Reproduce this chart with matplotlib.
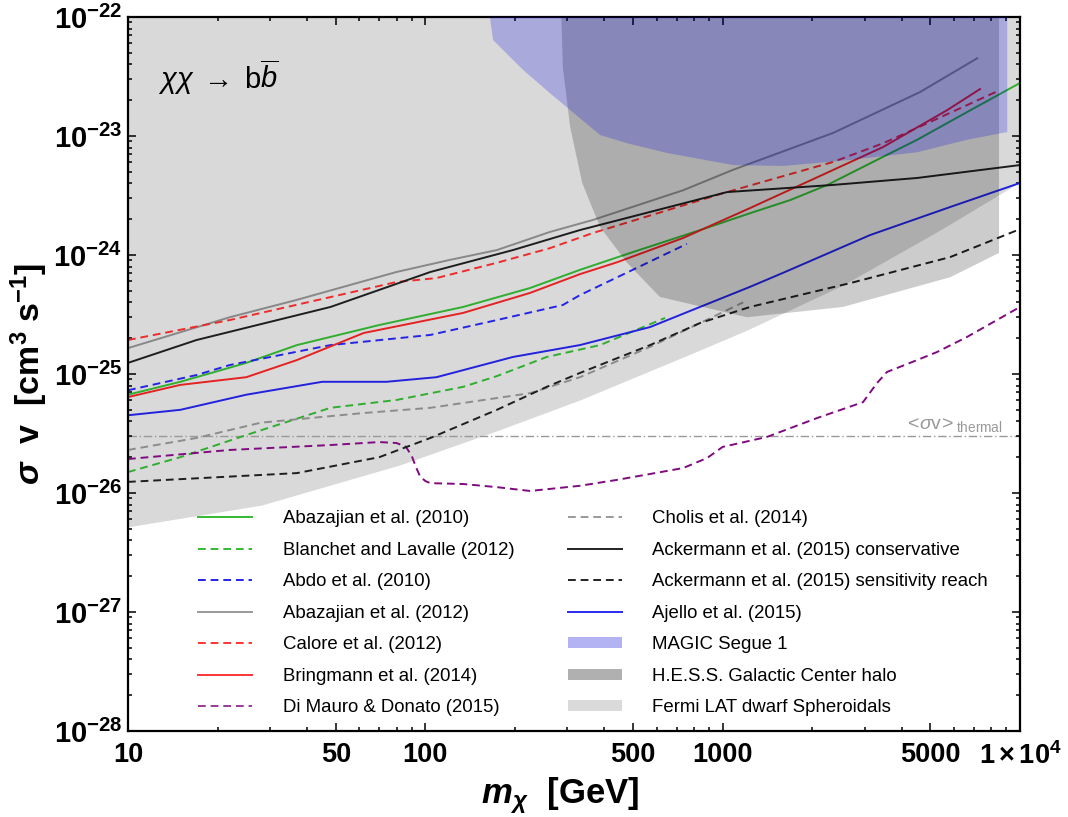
import numpy as np
import matplotlib.pyplot as plt
from matplotlib.lines import Line2D
from matplotlib.patches import Patch
from matplotlib.ticker import FixedLocator, FixedFormatter, NullFormatter

plt.rcParams['font.family'] = ['Liberation Sans', 'DejaVu Sans']
plt.rcParams['mathtext.fontset'] = 'custom'
plt.rcParams['mathtext.rm'] = 'Liberation Sans'
plt.rcParams['mathtext.it'] = 'Liberation Sans:italic'
plt.rcParams['mathtext.bf'] = 'Liberation Sans:bold'
plt.rcParams['mathtext.bfit'] = 'Liberation Sans:bold:italic'

# ---- limits: m_chi [GeV] vs <sigma v> [cm^3/s] ----
abaz10_m = [10, 15, 25, 37, 70, 134, 225, 331, 500, 840, 1240, 1690, 2250, 3470, 4510, 6640, 10000]
abaz10_sv = [6.7e-26, 8.6e-26, 1.24e-25, 1.75e-25, 2.58e-25, 3.66e-25, 5.28e-25, 7.5e-25, 1.06e-24,
             1.62e-24, 2.25e-24, 2.9e-24, 3.88e-24, 6.7e-24, 9.3e-24, 1.59e-23, 2.79e-23]

blanchet_m = [10, 15, 25, 48, 80, 134, 174, 256, 387, 640]
blanchet_sv = [1.5e-26, 2.0e-26, 3.07e-26, 5.2e-26, 6.05e-26, 7.8e-26, 9.6e-26, 1.39e-25, 1.75e-25, 2.96e-25]

abdo_m = [10, 17, 22, 48, 104, 174, 290, 331, 442, 758]
abdo_sv = [7.3e-26, 9.8e-26, 1.19e-25, 1.75e-25, 2.13e-25, 2.84e-25, 3.8e-25, 4.6e-25, 6.5e-25, 1.24e-24]

abaz12_m = [10, 22, 37, 80, 121, 174, 262, 366, 736, 1084, 2350, 4610, 7180]
abaz12_sv = [1.65e-25, 3.0e-25, 4.2e-25, 7.2e-25, 9.1e-25, 1.1e-24, 1.56e-24, 1.97e-24, 3.5e-24,
             5.2e-24, 1.06e-23, 2.34e-23, 4.5e-23]

calore_m = [10, 22, 80, 109, 174, 262, 366, 1000, 2350, 3470, 4510, 8430]
calore_sv = [1.93e-25, 2.84e-25, 5.93e-25, 6.4e-25, 8.6e-25, 1.14e-24, 1.53e-24, 3.3e-24, 6.05e-24,
             8.7e-24, 1.17e-23, 2.39e-23]

bring_m = [10, 15, 25, 37, 62, 134, 225, 331, 442, 736, 1236, 2080, 3470, 5690, 7340]
bring_sv = [6.4e-26, 8.1e-26, 9.4e-26, 1.31e-25, 2.21e-25, 3.26e-25, 4.8e-25, 6.9e-25, 8.7e-25,
            1.39e-24, 2.48e-24, 4.5e-24, 8.1e-24, 1.65e-23, 2.48e-23]

dimauro_m = [10, 22, 48, 70, 80, 86, 90, 93, 96, 100, 104, 134, 174, 225, 331, 442, 736, 887, 1000,
             1410, 2080, 2965, 3305, 3570, 4510, 5260, 6640, 10000]
dimauro_sv = [1.93e-26, 2.3e-26, 2.53e-26, 2.68e-26, 2.63e-26, 2.45e-26, 2.05e-26, 1.65e-26, 1.38e-26,
              1.26e-26, 1.21e-26, 1.19e-26, 1.12e-26, 1.04e-26, 1.15e-26, 1.29e-26, 1.62e-26, 1.97e-26,
              2.44e-26, 2.96e-26, 4.27e-26, 5.8e-26, 8.4e-26, 1.04e-25, 1.31e-25, 1.53e-25, 2.05e-25,
              3.66e-25]

cholis_m = [10, 17, 28, 62, 104, 225, 331, 570, 839, 1172]
cholis_sv = [2.3e-26, 2.9e-26, 3.9e-26, 4.7e-26, 5.2e-26, 6.9e-26, 9.4e-26, 1.69e-25, 2.68e-25, 4.0e-25]

ackc_m = [10, 17, 48, 104, 197, 331, 1035, 2350, 4510, 10000]
ackc_sv = [1.24e-25, 1.93e-25, 3.66e-25, 7.2e-25, 1.1e-24, 1.62e-24, 3.38e-24, 3.88e-24, 4.44e-24, 5.7e-24]

acks_m = [10, 37, 70, 104, 174, 256, 331, 570, 839, 1236, 2680, 5820, 10000]
acks_sv = [1.24e-26, 1.47e-26, 2.0e-26, 2.9e-26, 5.0e-26, 7.8e-26, 1.02e-25, 1.75e-25, 2.68e-25,
           3.66e-25, 5.8e-25, 9.6e-25, 1.65e-24]

ajello_m = [10, 15, 25, 45, 74, 109, 197, 331, 570, 839, 1236, 1600, 3130, 5820, 10000]
ajello_sv = [4.5e-26, 5.0e-26, 6.7e-26, 8.6e-26, 8.6e-26, 9.4e-26, 1.39e-25, 1.75e-25, 2.48e-25,
             3.66e-25, 5.4e-25, 7.1e-25, 1.47e-24, 2.53e-24, 4.03e-24]

# shaded exclusion regions
fermi_m = [10, 28, 82, 178, 331, 794, 1208, 2540, 5380, 10000]
fermi_low = [5.2e-27, 7.9e-27, 1.72e-26, 3.4e-26, 6.05e-26, 1.5e-25, 2.34e-25, 5.6e-25, 1.62e-24, 4.1e-24]

hess_m = [279, 290, 307, 337, 387, 477, 615, 1208, 2540, 5820, 8500, 8500]
hess_sv = [1e-21, 3.8e-23, 1.19e-23, 4.03e-24, 1.72e-24, 8.6e-25, 4.44e-25, 3.0e-25, 3.66e-25,
           6.5e-25, 1.04e-24, 1e-21]

magic_m = [145, 169, 213, 262, 387, 477, 650, 1084, 1597, 2690, 4510, 6640, 9060, 9060]
magic_sv = [1e-21, 6.4e-23, 3.6e-23, 2.3e-23, 1.02e-23, 8.7e-24, 7.2e-24, 5.7e-24, 5.6e-24, 6.3e-24,
            7.3e-24, 9.3e-24, 1.08e-23, 1e-21]

thermal_sv = 3e-26

x_ticks = [10, 50, 100, 500, 1000, 5000, 10000]
x_ticklabels = ['10', '50', '100', '500', '1000', '5000', r'$\mathbf{1\times10^{4}}$']
y_ticks = [1e-28, 1e-27, 1e-26, 1e-25, 1e-24, 1e-23, 1e-22]
y_ticklabels = [r'$\mathbf{10^{-%d}}$' % k for k in [28, 27, 26, 25, 24, 23, 22]]

fig = plt.figure(figsize=(10.68, 8.17), dpi=100)
ax = fig.add_axes([128 / 1068, 1 - 731 / 817, 892 / 1068, 714 / 817])
ax.set_xscale('log')
ax.set_yscale('log')
ax.set_xlim(10, 1e4)
ax.set_ylim(1e-28, 1e-22)

dash = (0, (4, 2.5))
lw = 1.4
ax.fill_between(fermi_m, fermi_low, 1e-21, color='#d9d9d9', lw=0, zorder=0.5)
ax.axhline(thermal_sv, color='#999999', lw=1.0, ls=(0, (6, 2, 1, 2)), zorder=1)

ax.plot(abaz10_m, abaz10_sv, color='#2fae2f', lw=lw, zorder=2)
ax.plot(blanchet_m, blanchet_sv, color='#2fae2f', lw=lw, ls=dash, zorder=2)
ax.plot(abdo_m, abdo_sv, color='#2424e6', lw=lw, ls=dash, zorder=2)
ax.plot(abaz12_m, abaz12_sv, color='#888888', lw=lw, zorder=2)
ax.plot(calore_m, calore_sv, color='#ee2a2a', lw=lw, ls=dash, zorder=2)
ax.plot(bring_m, bring_sv, color='#e52222', lw=lw, zorder=2)
ax.plot(dimauro_m, dimauro_sv, color='#800a80', lw=lw, ls=dash, zorder=2)
ax.plot(cholis_m, cholis_sv, color='#8c8c8c', lw=lw, ls=dash, zorder=2)
ax.plot(ackc_m, ackc_sv, color='#1e1e1e', lw=lw, zorder=2)
ax.plot(acks_m, acks_sv, color='#1e1e1e', lw=lw, ls=dash, zorder=2)
ax.plot(ajello_m, ajello_sv, color='#2222dd', lw=lw, zorder=2)

ax.fill(hess_m, hess_sv, color='black', alpha=0.2, lw=0, zorder=3)
ax.fill(magic_m, magic_sv, color=(0.0, 0.0, 0.9), alpha=0.22, lw=0, zorder=3.1)

ax.text(0.034, 0.915, r'$\chi\chi\;\rightarrow\;\mathrm{b}\overline{b}$', transform=ax.transAxes,
        fontsize=21, ha='left', va='center', zorder=4)
ax.text(5960, 3.12e-26, r'$<\!\sigma\mathrm{v}\!>_{\mathrm{thermal}}$', color='#999999',
        fontsize=14, ha='center', va='bottom', zorder=4)

# axes styling
ax.xaxis.set_major_locator(FixedLocator(x_ticks))
ax.xaxis.set_major_formatter(FixedFormatter(x_ticklabels))
minor_x = [k * 10 ** d for d in range(1, 4) for k in range(2, 10) if k != 5]
ax.xaxis.set_minor_locator(FixedLocator(minor_x))
ax.xaxis.set_minor_formatter(NullFormatter())
ax.yaxis.set_major_locator(FixedLocator(y_ticks))
ax.yaxis.set_major_formatter(FixedFormatter(y_ticklabels))
minor_y = [k * 10.0 ** d for d in range(-28, -22) for k in range(2, 10)]
ax.yaxis.set_minor_locator(FixedLocator(minor_y))
ax.yaxis.set_minor_formatter(NullFormatter())
ax.tick_params(which='both', direction='in', top=True, right=True, width=1.1)
ax.tick_params(which='major', length=6)
ax.tick_params(which='minor', length=3)
ax.tick_params(axis='x', labelsize=19.5, pad=8)
ax.tick_params(axis='y', labelsize=21, pad=4)
for lab in ax.get_xticklabels():
    lab.set_fontweight('bold')
for sp in ax.spines.values():
    sp.set_linewidth(1.6)

ax.set_xlabel(r'$\mathbfit{m}_{\mathbfit{\chi}}\ \ \mathbf{[GeV]}$', fontsize=25)
ax.xaxis.set_label_coords(0.484, -0.062)
ax.set_ylabel(r'$\mathbfit{\sigma}\ \ \mathbf{v\ \ [cm^{3}\ s^{-1}]}$', fontsize=24.5)
ax.yaxis.set_label_coords(-0.088, 0.5)

handles = [
    Line2D([], [], color='#33bb33', lw=1.4),
    Line2D([], [], color='#33bb33', lw=1.4, ls=dash),
    Line2D([], [], color='#2424e6', lw=1.4, ls=dash),
    Line2D([], [], color='#999999', lw=1.4),
    Line2D([], [], color='#ff3333', lw=1.4, ls=dash),
    Line2D([], [], color='#ff3333', lw=1.4),
    Line2D([], [], color='#9a3a9a', lw=1.4, ls=dash),
    Line2D([], [], color='#999999', lw=1.4, ls=dash),
    Line2D([], [], color='#222222', lw=1.4),
    Line2D([], [], color='#222222', lw=1.4, ls=dash),
    Line2D([], [], color='#2a2af0', lw=1.4),
    Patch(facecolor='#b3b3f3', edgecolor='none'),
    Patch(facecolor='#b0b0b0', edgecolor='none'),
    Patch(facecolor='#dadada', edgecolor='none'),
]
labels = [
    'Abazajian et al. (2010)', 'Blanchet and Lavalle (2012)', 'Abdo et al. (2010)',
    'Abazajian et al. (2012)', 'Calore et al. (2012)', 'Bringmann et al. (2014)',
    'Di Mauro & Donato (2015)', 'Cholis et al. (2014)', 'Ackermann et al. (2015) conservative',
    'Ackermann et al. (2015) sensitivity reach', 'Ajello et al. (2015)', 'MAGIC Segue 1',
    'H.E.S.S. Galactic Center halo', 'Fermi LAT dwarf Spheroidals',
]
leg = ax.legend(handles, labels, ncol=2, loc='upper left', bbox_to_anchor=(0.0785, 0.309),
                frameon=False, fontsize=13.4, handlelength=2.9, handletextpad=1.66,
                columnspacing=2.85, labelspacing=0.78, borderpad=0, borderaxespad=0,
                handleheight=0.55)
leg.set_zorder(5)

fig.savefig('out.png', dpi=100)
